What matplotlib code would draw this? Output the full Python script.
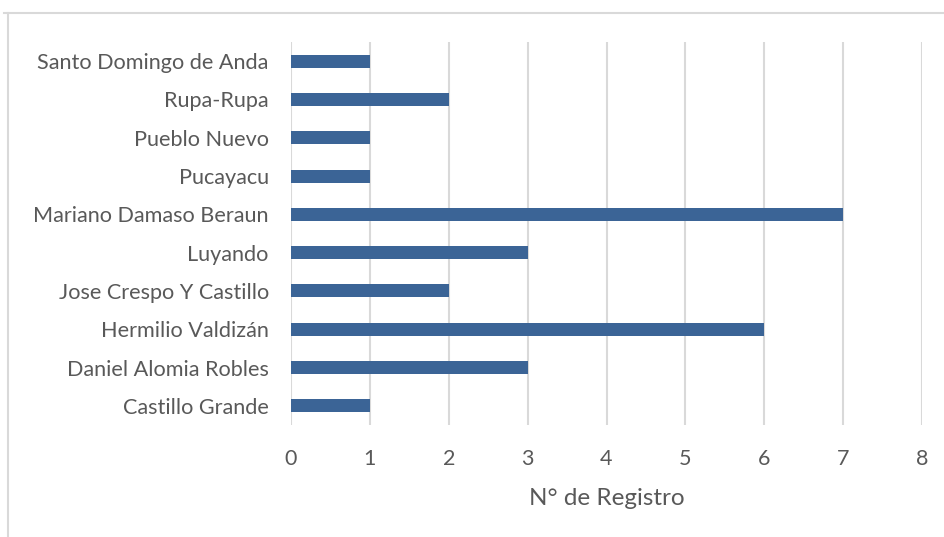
import matplotlib
matplotlib.use("Agg")
import matplotlib.pyplot as plt
from matplotlib.lines import Line2D

categories = [
    "Castillo Grande",
    "Daniel Alomia Robles",
    "Hermilio Valdizán",
    "Jose Crespo Y Castillo",
    "Luyando",
    "Mariano Damaso Beraun",
    "Pucayacu",
    "Pueblo Nuevo",
    "Rupa-Rupa",
    "Santo Domingo de Anda",
]
registros = [1, 3, 6, 2, 3, 7, 1, 1, 2, 1]
x_ticks = [0, 1, 2, 3, 4, 5, 6, 7, 8]

plt.rcParams["font.family"] = ["Lato", "DejaVu Sans"]
text_color = "#595959"
grid_color = "#D9D9D9"
bar_color = "#3B6496"

W, H = 945, 537
fig = plt.figure(figsize=(W / 100, H / 100), dpi=100)
ax = fig.add_axes([291 / W, 1 - 425 / H, (922 - 291) / W, (425 - 42) / H])

ypos = list(range(len(categories)))
ax.barh(ypos, registros, height=0.34, color=bar_color, zorder=3)

ax.set_xlim(0, 8)
ax.set_ylim(-0.5, len(categories) - 0.5)
ax.set_xticks(x_ticks)
ax.set_xticklabels([str(t) for t in x_ticks])
ax.set_yticks(ypos)
ax.set_yticklabels(categories)

ax.grid(axis="x", color=grid_color, linewidth=1.5, zorder=0)
ax.grid(axis="y", visible=False)
for s in ax.spines.values():
    s.set_visible(False)
ax.tick_params(axis="both", length=0, colors=text_color)
ax.tick_params(axis="x", pad=17, labelsize=15.5)
ax.tick_params(axis="y", pad=16, labelsize=15.6)

ax.set_xlabel("N° de Registro", color=text_color, fontsize=17.5, labelpad=14)

# chart frame
fig.add_artist(Line2D([4 / W, 1], [1 - 13 / H, 1 - 13 / H], color=grid_color,
                      linewidth=1.5, transform=fig.transFigure))
fig.add_artist(Line2D([8 / W, 8 / W], [0, 1 - 13 / H], color=grid_color,
                      linewidth=1.5, transform=fig.transFigure))

fig.savefig("out.png", dpi=100, facecolor="white")
